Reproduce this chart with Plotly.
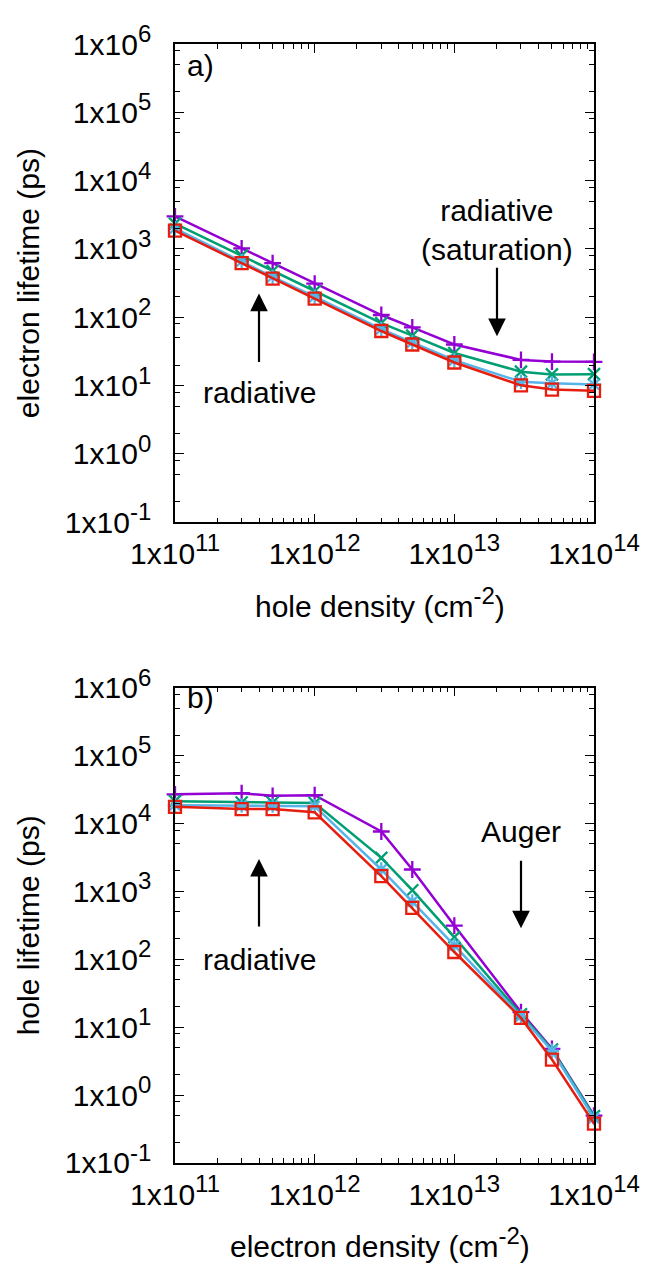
import plotly.graph_objects as go

density = [1e11, 3e11, 5e11, 1e12, 3e12, 5e12, 1e13, 3e13, 5e13, 1e14]

# panel a: electron lifetime (ps) vs hole density
a_purple = [3000, 1020, 620, 310, 108, 71, 40, 23.8, 22.5, 22.3]
a_green = [2350, 800, 475, 240, 82, 54, 30, 16, 14.6, 14.7]
a_blue = [2000, 660, 390, 200, 67, 43, 23.5, 11.4, 10.8, 10.4]
a_red = [1850, 620, 367, 188, 63, 40, 21.8, 10.1, 8.75, 8.4]

# panel b: hole lifetime (ps) vs electron density
b_purple = [26900, 27900, 25500, 26100, 7620, 2100, 314, 16.7, 4.8, 0.50]
b_green = [21300, 20400, 20400, 20000, 3110, 1040, 212, 15.5, 4.7, 0.49]
b_blue = [18600, 18400, 18300, 18000, 2100, 710, 160, 14.5, 4.5, 0.46]
b_red = [17600, 16300, 16300, 14600, 1680, 571, 128, 13.7, 3.34, 0.38]

x_exps = [11, 12, 13, 14]
y_exps = [-1, 0, 1, 2, 3, 4, 5, 6]

FONT = "Liberation Sans, Arial, sans-serif"
FS = 30
SUP = 24

def sup(s):
    return '<sup><span style="font-size:%dpx">%s</span></sup>' % (SUP, s)

x_ticktext = ["1x10" + sup(e) for e in x_exps]
y_ticktext = ["1x10" + sup(e) for e in y_exps]

styles = [
    ("#9400d3", "cross-thin-open"),
    ("#009e73", "x-thin-open"),
    ("#56b4e9", "asterisk-open"),
    ("#e51e10", "square-open"),
]

fig = go.Figure()
for (xa, ya), series in [(("x", "y"), [a_purple, a_green, a_blue, a_red]),
                         (("x2", "y2"), [b_purple, b_green, b_blue, b_red])]:
    for vals, (col, sym) in zip(series, styles):
        fig.add_trace(go.Scatter(
            x=density, y=vals, xaxis=xa, yaxis=ya, mode="lines+markers",
            line=dict(color=col, width=2.5),
            marker=dict(symbol=sym, size=12, color=col,
                        line=dict(color=col, width=2.3)),
            showlegend=False, cliponaxis=False))

x_minor = [m * 10 ** e for e in [11, 12, 13] for m in range(2, 10)]
y_minor = [m * 10 ** e for e in range(-1, 6) for m in (2, 5, 8)]

xcommon = dict(type="log", range=[11, 14], tickmode="array",
               tickvals=[10.0 ** e for e in x_exps], ticktext=x_ticktext,
               ticks="inside", ticklen=9, tickwidth=1, tickcolor="black",
               showline=True, linecolor="black", linewidth=1.5, mirror="ticks",
               showgrid=False, zeroline=False, ticklabelstandoff=4,
               tickfont=dict(family=FONT, size=FS, color="black"),
               minor=dict(tickmode="array", tickvals=x_minor, ticks="inside",
                          ticklen=5, tickcolor="black", showgrid=False))
ycommon = dict(type="log", range=[-1, 6], tickmode="array",
               tickvals=[10.0 ** e for e in y_exps], ticktext=y_ticktext,
               ticks="inside", ticklen=9, tickwidth=1, tickcolor="black",
               showline=True, linecolor="black", linewidth=1.5, mirror="ticks",
               showgrid=False, zeroline=False, ticklabelstandoff=16,
               tickfont=dict(family=FONT, size=FS, color="black"),
               minor=dict(tickmode="array", tickvals=y_minor, ticks="inside",
                          ticklen=5, tickcolor="black", showgrid=False))

# the page body adds an 8 px offset, so the figure is 8 px smaller
fig.update_layout(
    width=644, height=1258,
    margin=dict(l=167, r=58, t=25, b=103),
    paper_bgcolor="white", plot_bgcolor="white",
    font=dict(family=FONT, size=FS, color="black"),
    xaxis=dict(domain=[0, 1], anchor="y", **xcommon),
    yaxis=dict(domain=[0.5726, 1], anchor="x", **ycommon),
    xaxis2=dict(domain=[0, 1], anchor="y2", **xcommon),
    yaxis2=dict(domain=[0, 0.4248], anchor="x2", **ycommon),
)

W, H = 419.0, 1130.0
def px(x):
    return (x - 175) / W
def py(y):
    return (1163 - y) / H

def text(x, y, s, xanchor="center", angle=0):
    fig.add_annotation(x=px(x), y=py(y), xref="paper", yref="paper", text=s,
                       showarrow=False, xanchor=xanchor, yanchor="middle",
                       textangle=angle, font=dict(family=FONT, size=FS, color="black"))

def arrow(x, ytip, ytail):
    fig.add_annotation(x=px(x), y=py(ytip), xref="paper", yref="paper", text="",
                       showarrow=True, ax=0, ay=ytail - ytip, arrowhead=2,
                       arrowsize=1.6, arrowwidth=2.2, arrowcolor="black")

# axis titles
text(28, 274.5, "electron lifetime (ps)", angle=-90)
text(28, 923, "hole lifetime (ps)", angle=-90)
text(380, 597, "hole density (cm" + sup("-2") + ")")
text(380, 1243, "electron density (cm" + sup("-2") + ")")

# panel labels
text(185, 55, "a)", xanchor="left")
text(185, 693, "b)", xanchor="left")

# annotations panel a
text(259, 385, "radiative")
arrow(259, 285, 355)
text(497, 220.5, "radiative<br>(saturation)")
arrow(497, 328, 258)

# annotations panel b
text(259, 958, "radiative")
arrow(259, 856, 925)
text(521, 828, "Auger")
arrow(521, 926, 857)

fig.write_html("out.html")
